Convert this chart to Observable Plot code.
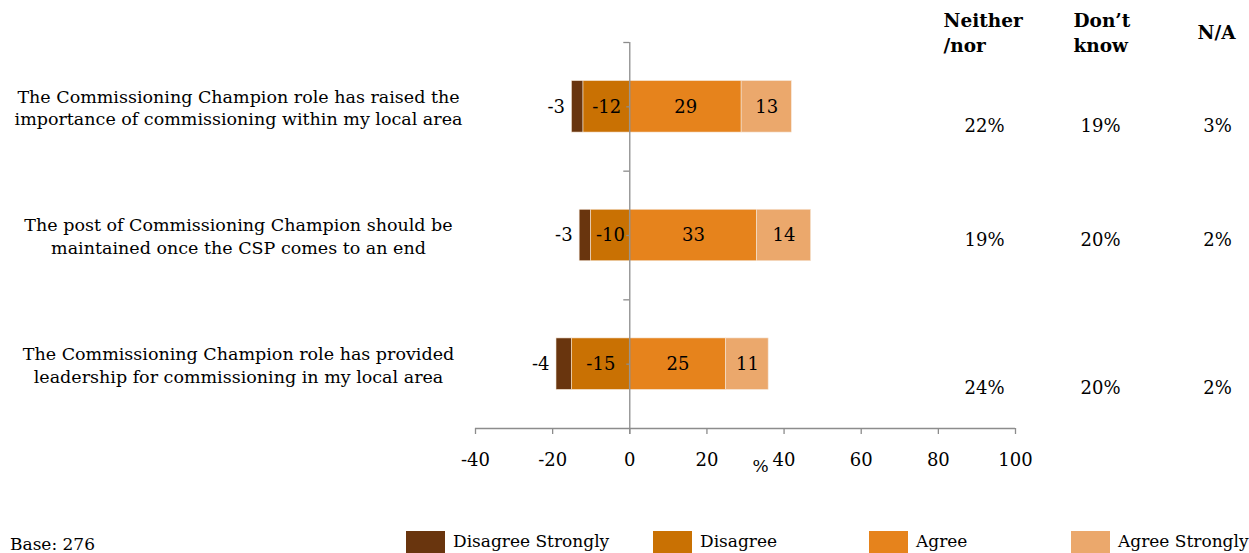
<!DOCTYPE html>
<html>
<head>
<meta charset="utf-8">
<script src="https://cdn.jsdelivr.net/npm/d3@7"></script>
<script src="https://cdn.jsdelivr.net/npm/@observablehq/plot@0.6"></script>
<style>
  html, body { margin: 0; padding: 0; background: #fff; }
  body { width: 1249px; height: 553px; overflow: hidden; font-family: "DejaVu Serif", serif; }
  #chart svg { display: block; }
  #foot { position: relative; height: 63px; width: 1249px; font-size: 17px; color: #000; }
  #foot .base { position: absolute; left: 10px; top: 44px; }
  #foot .item { position: absolute; top: 41px; display: flex; align-items: flex-start; }
  #foot .sw { width: 39px; height: 22px; margin-right: 8px; }
  #foot .lab { line-height: 20px; }
</style>
</head>
<body>
<div id="chart"></div>
<div id="foot"></div>
<script>
// ---- data ----
const statements = [
  "The Commissioning Champion role has raised the\nimportance of commissioning within my local area",
  "The post of Commissioning Champion should be\nmaintained once the CSP comes to an end",
  "The Commissioning Champion role has provided\nleadership for commissioning in my local area"
];
const disagreeStrongly = [-3, -3, -4];
const disagree = [-12, -10, -15];
const agree = [29, 33, 25];
const agreeStrongly = [13, 14, 11];
const neither = [22, 19, 24];
const dontKnow = [19, 20, 20];
const notApplicable = [3, 2, 2];
const seriesNames = ["Disagree Strongly", "Disagree", "Agree", "Agree Strongly"];
const seriesColors = ["#69350e", "#c97103", "#e6831c", "#eba86c"];
const xTicks = [-40, -20, 0, 20, 40, 60, 80, 100];
const baseText = "Base: 276";

// ---- derived table ----
const segs = [];
statements.forEach((s, i) => {
  const ds = disagreeStrongly[i], d = disagree[i], a = agree[i], as = agreeStrongly[i];
  segs.push({row: i, series: seriesNames[0], x1: ds + d, x2: d, v: ds});
  segs.push({row: i, series: seriesNames[1], x1: d, x2: 0, v: d});
  segs.push({row: i, series: seriesNames[2], x1: 0, x2: a, v: a});
  segs.push({row: i, series: seriesNames[3], x1: a, x2: a + as, v: as});
});
const rows = statements.map((s, i) => ({row: i, label: s, n: neither[i], dk: dontKnow[i], na: notApplicable[i]}));
const half = 0.2; // half bar thickness in row units
const pctDy = [19, 5, 24];
const font = "DejaVu Serif";
const axisColor = "#8c8c8c";

const marks = [
  // bars
  Plot.rect(segs, {x1: "x1", x2: "x2", y1: d => d.row + 0.5 - half, y2: d => d.row + 0.5 + half,
    fill: "series", stroke: "#f6e6d6", strokeWidth: 0.6}),
  // vertical axis at 0
  Plot.ruleX([0], {y1: 0, y2: 3, stroke: axisColor, strokeWidth: 1.3, insetBottom: -6}),
  // row boundary ticks and minor center ticks
  Plot.ruleY([0, 1, 2], {x1: 0, x2: 0, insetLeft: -6, stroke: axisColor, strokeWidth: 1.3}),
  Plot.ruleY([0.5, 1.5, 2.5], {x1: 0, x2: 0, insetLeft: -3, stroke: axisColor, strokeWidth: 1.3}),
  // horizontal axis
  Plot.axisX({ticks: xTicks, tickFormat: d => String(d), tickSize: 6, tickPadding: 19,
    stroke: axisColor, strokeWidth: 1.3, strokeOpacity: 1, fontSize: 18, fill: "#000", label: null, anchor: "bottom"}),
  Plot.ruleY([3], {x1: -40, x2: 100, stroke: axisColor, strokeWidth: 1.6}),
  Plot.text(["%"], {frameAnchor: "bottom", dx: 15, dy: 43, fontSize: 17, fill: "#000"}),
  // y labels
  Plot.axisY({ticks: [0.5, 1.5, 2.5], tickFormat: d => statements[Math.floor(d)], tickSize: 0,
    tickPadding: 237, textAnchor: "middle", fontSize: 17.5, lineHeight: 1.3, fill: "#000", label: null, anchor: "left"}),
  // bar value labels
  Plot.text(segs.filter(d => d.series === seriesNames[0]), {x: "x1", y: d => d.row + 0.5, text: d => String(d.v),
    textAnchor: "end", dx: -7, fontSize: 18, fill: "#000"}),
  Plot.text(segs.filter(d => d.series !== seriesNames[0]), {x: d => (d.x1 + d.x2) / 2, y: d => d.row + 0.5,
    text: d => String(d.v), fontSize: 18, fill: "#000"}),
  // column headers
  Plot.text(["Neither\n/nor"], {frameAnchor: "top-right", textAnchor: "start", lineAnchor: "top", dx: -72, dy: -33,
    fontSize: 18.5, fontWeight: "bold", lineHeight: 1.35, fill: "#000"}),
  Plot.text(["Don\u2019t\nknow"], {frameAnchor: "top-right", textAnchor: "start", lineAnchor: "top", dx: 58, dy: -33,
    fontSize: 18.5, fontWeight: "bold", lineHeight: 1.35, fill: "#000"}),
  Plot.text(["N/A"], {frameAnchor: "top-right", textAnchor: "start", lineAnchor: "middle", dx: 182, dy: -9,
    fontSize: 18.5, fontWeight: "bold", fill: "#000"})
];
rows.forEach(r => {
  const sub = [r];
  const common = {frameAnchor: "right", textAnchor: "middle", y: d => d.row + 0.5, dy: pctDy[r.row], fontSize: 18, fill: "#000"};
  marks.push(Plot.text(sub, {...common, text: d => d.n + "%", dx: -31}));
  marks.push(Plot.text(sub, {...common, text: d => d.dk + "%", dx: 85}));
  marks.push(Plot.text(sub, {...common, text: d => d.na + "%", dx: 202}));
});

const chart = Plot.plot({
  width: 1249,
  height: 490,
  marginLeft: 475,
  marginRight: 234,
  marginTop: 42,
  marginBottom: 62,
  style: {fontFamily: font, background: "#fff", overflow: "visible"},
  x: {domain: [-40, 100]},
  y: {domain: [0, 3], reverse: true, axis: null},
  color: {domain: seriesNames, range: seriesColors},
  marks
});
document.getElementById("chart").appendChild(chart);

// ---- footer: base + legend ----
const foot = document.getElementById("foot");
const base = document.createElement("div");
base.className = "base";
base.textContent = baseText;
foot.appendChild(base);
const legendLefts = [406, 653, 869, 1071];
seriesNames.forEach((name, i) => {
  const it = document.createElement("div");
  it.className = "item";
  it.style.left = legendLefts[i] + "px";
  const sw = document.createElement("div");
  sw.className = "sw";
  sw.style.background = seriesColors[i];
  const lab = document.createElement("div");
  lab.className = "lab";
  lab.textContent = name;
  it.appendChild(sw); it.appendChild(lab);
  foot.appendChild(it);
});
</script>
</body>
</html>
